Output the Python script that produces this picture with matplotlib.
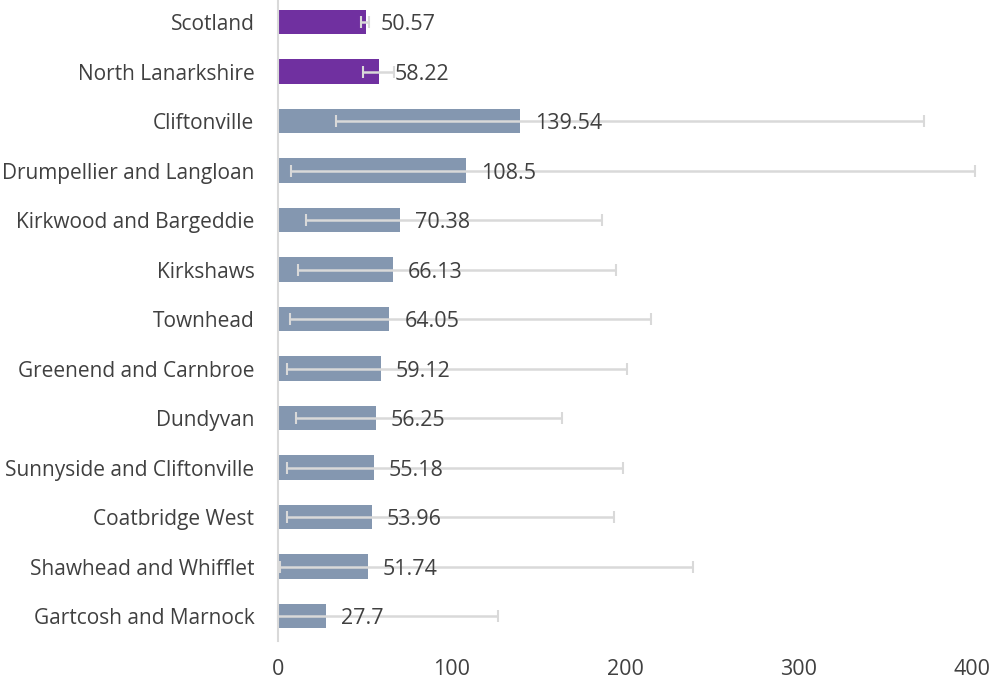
import numpy as np
import matplotlib
matplotlib.use("Agg")
from matplotlib import pyplot as plt

areas = ["Scotland", "North Lanarkshire", "Cliftonville", "Drumpellier and Langloan",
         "Kirkwood and Bargeddie", "Kirkshaws", "Townhead", "Greenend and Carnbroe",
         "Dundyvan", "Sunnyside and Cliftonville", "Coatbridge West",
         "Shawhead and Whifflet", "Gartcosh and Marnock"]
rates = [50.57, 58.22, 139.54, 108.5, 70.38, 66.13, 64.05, 59.12, 56.25, 55.18,
         53.96, 51.74, 27.7]
ci_low = [47.6, 48.8, 33.4, 7.4, 16.1, 11.3, 6.9, 5.4, 10.2, 5.0, 5.0, 1.2, 0.2]
ci_high = [52.3, 66.9, 372.6, 402.0, 187.0, 194.8, 214.8, 201.0, 163.9, 198.7,
           193.7, 239.0, 126.6]
labels = ["50.57", "58.22", "139.54", "108.5", "70.38", "66.13", "64.05", "59.12",
          "56.25", "55.18", "53.96", "51.74", "27.7"]
xticks = [0, 100, 200, 300, 400]

plt.rcParams["font.family"] = ["Open Sans", "DejaVu Sans"]
text_col = "#404040"

fig = plt.figure(figsize=(9.9, 6.84), dpi=100)
ax = fig.add_axes([0.2808, 0.0632, 0.701, 0.9408])

y = np.arange(len(areas))
rates = np.array(rates)
colors = ["#7030A0"] * 2 + ["#8497B0"] * (len(areas) - 2)
ax.barh(y, rates, height=0.5, color=colors, zorder=2)

err = [rates - np.array(ci_low), np.array(ci_high) - rates]
ax.errorbar(rates, y, xerr=err, fmt="none", ecolor="#D9D9D9", elinewidth=1.8,
            capsize=4.5, capthick=1.5, zorder=3, clip_on=False)

for yi, r, lab in zip(y, rates, labels):
    ax.annotate(lab, (r, yi), xytext=(11, -2), textcoords="offset points",
                ha="left", va="center", fontsize=15.5, color=text_col, zorder=4)

ax.set_xlim(0, 400)
ax.set_ylim(len(areas) - 0.5, -0.5)
ax.set_xticks(xticks)
ax.set_yticks(y)
ax.set_yticklabels(areas, fontsize=15)
ax.tick_params(axis="both", length=0, colors=text_col)
ax.tick_params(axis="x", labelsize=15.5, pad=13)
ax.tick_params(axis="y", pad=17)
for s in ["top", "right", "bottom"]:
    ax.spines[s].set_visible(False)
ax.spines["left"].set_color("#D9D9D9")
ax.spines["left"].set_linewidth(1.5)

fig.savefig("out.png", dpi=100)
